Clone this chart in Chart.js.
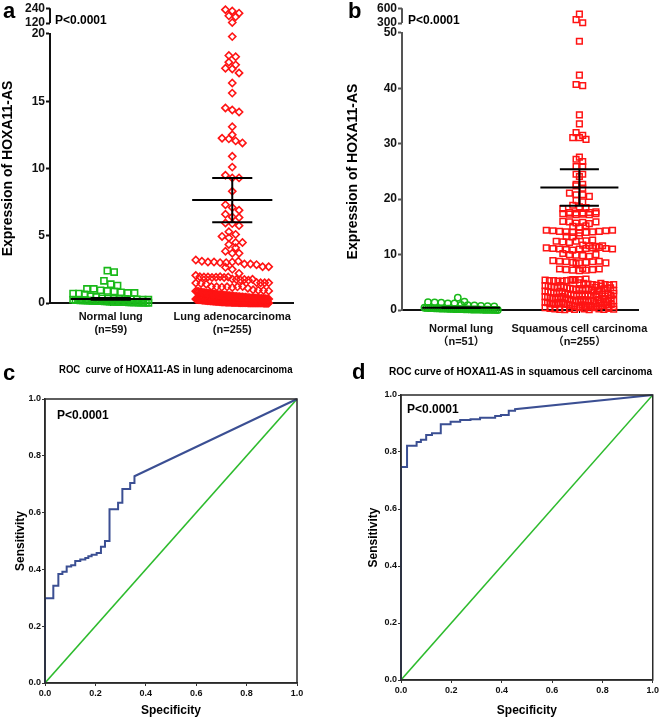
<!DOCTYPE html>
<html>
<head>
<meta charset="utf-8">
<script src="https://cdn.jsdelivr.net/npm/chart.js@4"></script>
<style>
  body { margin: 0; background: #fff; width: 661px; height: 718px; position: relative; overflow: hidden; }
  .box { position: absolute; }
  .txt { position: absolute; font-family: 'Liberation Sans', Arial, sans-serif; font-weight: bold; color: #000; white-space: nowrap; line-height: 1; }
  .letter { font-size: 22px; }
  .pv { font-size: 12px; }
  .ttl { transform-origin: 0 0; }
</style>
</head>
<body>
<div class="box" style="left:0;top:0;width:330px;height:345px"><canvas id="chartA"></canvas></div>
<div class="box" style="left:330px;top:0;width:331px;height:350px"><canvas id="chartB"></canvas></div>
<div class="box" style="left:0;top:360px;width:330px;height:358px"><canvas id="chartC"></canvas></div>
<div class="box" style="left:330px;top:360px;width:331px;height:358px"><canvas id="chartD"></canvas></div>

<div class="txt letter" style="left:3px;top:0px">a</div>
<div class="txt letter" style="left:348px;top:0px">b</div>
<div class="txt letter" style="left:3px;top:362px">c</div>
<div class="txt letter" style="left:352px;top:361px">d</div>
<div class="txt pv" style="left:55px;top:14px">P&lt;0.0001</div>
<div class="txt pv" style="left:408px;top:14px">P&lt;0.0001</div>
<div class="txt pv" style="left:57px;top:409px">P&lt;0.0001</div>
<div class="txt pv" style="left:407px;top:403px">P&lt;0.0001</div>
<div class="txt ttl" style="left:59px;top:364px;font-size:11px;transform:scaleX(0.87)">ROC&nbsp; curve of HOXA11-AS in lung adenocarcinoma</div>
<div class="txt ttl" style="left:389px;top:366px;font-size:11.5px;transform:scaleX(0.88)">ROC curve of HOXA11-AS in squamous cell carcinoma</div>

<script>
const FONT = "'Liberation Sans', Arial, 'Noto Sans CJK SC', sans-serif";

// ---- panel a : lung adenocarcinoma ----
const catsA = [['Normal lung', '(n=59)'], ['Lung adenocarcinoma', '(n=255)']];
const normalA = [2.4, 2.3, 1.65, 1.4, 1.3, 1.05, 1.05, 0.95, 0.9, 0.85, 0.8, 0.75, 0.75, 0.7, 0.7, 0.65, 0.5, 0.45,
  0.35, 0.33, 0.32, 0.3, 0.3, 0.28, 0.27, 0.25, 0.25, 0.24, 0.22, 0.21, 0.2, 0.2, 0.19, 0.18, 0.17, 0.16, 0.15, 0.15,
  0.14, 0.13, 0.12, 0.11, 0.1, 0.1, 0.09, 0.08, 0.08, 0.07, 0.06, 0.06, 0.05, 0.05, 0.04, 0.04, 0.03, 0.03, 0.02, 0.02, 0.01];
const adenoTop = [228, 218, 200, 178, 170, 124];
const adeno = [19.8, 18.4, 18.3, 17.9, 17.7, 17.45, 17.4, 17.1, 16.35, 15.6, 14.5, 14.35, 14.2, 13.1, 12.5, 12.25, 12.2, 12.05, 11.9, 10.9, 10.1,
  9.5, 9.3, 9.3, 8.3, 7.3, 7.1, 6.9, 6.6, 6.4, 6.35, 5.95, 5.9, 5.75, 5.3, 5.1,
  4.95, 4.85, 4.5, 4.5, 4.35, 4.1, 3.85, 3.7, 3.7, 3.2, 3.1, 3.05, 3.05, 3.0, 3.0, 3.05, 3.1,
  2.9, 2.9, 2.85, 2.7, 2.7, 2.65, 2.5, 2.2, 2.05,
  1.95, 1.93, 1.93, 1.9, 1.92, 1.95, 1.9, 1.93, 1.78, 1.75, 1.72, 1.75, 1.7, 1.76, 1.52, 1.5, 1.48, 1.5, 1.45, 1.5, 1.4,
  1.22, 1.2, 1.18, 1.2, 1.15, 1.2, 1.22, 1.1,
  0.98, 0.95, 0.93, 0.9, 0.88, 0.86, 0.85, 0.82, 0.8, 0.78, 0.77, 0.75, 0.73, 0.72, 0.7, 0.69, 0.67, 0.66, 0.65, 0.63,
  0.62, 0.61, 0.6, 0.58, 0.57, 0.56, 0.55, 0.54, 0.52, 0.51, 0.5, 0.49, 0.48, 0.47, 0.46, 0.45, 0.44, 0.43, 0.42, 0.41,
  0.4, 0.39, 0.38, 0.38, 0.37, 0.36, 0.35, 0.35, 0.34, 0.33, 0.32, 0.32, 0.31, 0.3, 0.3, 0.29, 0.28, 0.28, 0.27, 0.26,
  0.26, 0.25, 0.25, 0.24, 0.23, 0.23, 0.22, 0.22, 0.21, 0.2, 0.2, 0.19, 0.19, 0.18, 0.18, 0.17, 0.17, 0.16, 0.16, 0.15,
  0.15, 0.14, 0.14, 0.13, 0.13, 0.13, 0.12, 0.12, 0.11, 0.11, 0.11, 0.1, 0.1, 0.1, 0.09, 0.09, 0.09, 0.08, 0.08, 0.08,
  0.08, 0.07, 0.07, 0.07, 0.07, 0.06, 0.06, 0.06, 0.06, 0.06, 0.05, 0.05, 0.05, 0.05, 0.05, 0.04, 0.04, 0.04, 0.04, 0.04,
  0.04, 0.03, 0.03, 0.03, 0.03, 0.03, 0.03, 0.03, 0.02, 0.02, 0.02, 0.02, 0.02, 0.02, 0.02, 0.02, 0.01, 0.01, 0.01, 0.01,
  0.01, 0.01, 0.01, 0.01, 0.01, 0.01, 0.01, 0.01, 0.01, 0.01, 0, 0, 0, 0, 0, 0, 0, 0];
const meanA = [0.3, 7.65];
const semLoA = [0.25, 6.0];
const semHiA = [0.38, 9.3];

// ---- panel b : squamous cell carcinoma ----
const catsB = [['Normal lung', '\uFF08n=51\uFF09'], ['Squamous cell carcinoma', '\uFF08n=255\uFF09']];
const normalB = [2.2, 1.5, 1.4, 1.35, 1.3, 1.2, 1.2, 0.9, 0.85, 0.8, 0.75, 0.7, 0.65,
  0.4, 0.38, 0.36, 0.35, 0.33, 0.32, 0.3, 0.29, 0.28, 0.27, 0.25, 0.24, 0.23, 0.22, 0.2, 0.19, 0.18, 0.17, 0.16, 0.15,
  0.14, 0.13, 0.12, 0.11, 0.1, 0.09, 0.08, 0.08, 0.07, 0.06, 0.05, 0.05, 0.04, 0.03, 0.03, 0.02, 0.02, 0.01];
const squamTop = [480, 370, 305];
const squam = [48.5, 42.4, 40.7, 40.5, 35.2, 33.6, 32.0, 31.5, 31.1, 31.1, 30.8, 27.6, 27.2,
  26.8, 25.9, 25.9, 24.5, 24.5, 24.1, 22.7, 22.7, 22.4, 22.0, 21.1, 20.8, 20.8, 20.5, 19.8, 19.5, 18.9, 18.6, 18.5, 18.3,
  17.6, 17.5, 17.4, 17.3, 17.2, 17.3, 17.2, 17.4, 17.5, 17.6, 17.7,
  16.0, 15.9, 15.7, 15.8, 15.6, 15.9, 15.1, 15.0, 15.2,
  14.4, 14.3, 14.2, 14.1, 14.0, 13.9, 14.0, 14.1, 14.2, 14.3, 14.4,
  13.3, 13.2, 13.4, 12.5, 12.4, 12.3, 12.2, 12.4, 12.6,
  11.7, 11.6, 11.5, 11.6, 11.2, 11.1, 11.0, 10.9, 10.8, 11.0, 11.1, 11.2, 11.3, 11.1, 11.0,
  10.2, 10.0, 9.9, 9.8, 9.7, 10.0,
  8.9, 8.8, 8.7, 8.6, 8.5, 8.4, 8.6, 8.7, 8.8, 8.5,
  7.5, 7.4, 7.3, 7.2, 7.1, 7.2, 7.3, 7.4,
  5.5, 5.4, 5.3, 5.3, 5.2, 5.2, 5.3, 5.4, 5.4, 5.5, 5.6,
  4.9, 4.8, 4.7, 4.6, 4.5, 4.4, 4.3, 4.2, 4.1, 4.0, 4.8, 4.6, 4.4, 4.2, 4.0, 3.9, 3.8, 3.7, 3.6, 3.5,
  3.4, 3.3, 3.2, 3.1, 3.0, 3.9, 3.7, 3.5, 3.3, 3.1, 2.9, 2.8, 2.7, 2.6, 2.5, 2.4, 2.3, 2.2, 2.1, 2.0,
  2.9, 2.7, 2.5, 2.3, 2.1, 2.8, 2.6, 2.4, 2.2, 2.0, 1.9, 1.8, 1.7, 1.6, 1.5, 1.4, 1.3, 1.2, 1.1, 1.0,
  1.9, 1.7, 1.5, 1.3, 1.1, 1.8, 1.6, 1.4, 1.2, 1.0, 0.9, 0.8, 0.7, 0.6, 0.5, 0.4, 0.3, 0.2, 0.1, 0.05,
  0.9, 0.7, 0.5, 0.3, 0.1, 0.8, 0.6, 0.4, 0.2, 0.05, 4.5, 4.1, 3.6, 3.2, 2.8, 2.4, 1.9, 1.5, 1.1, 0.7,
  4.3, 3.8, 3.4, 2.9, 2.5, 2.1, 1.6, 1.2, 0.8, 0.4, 4.6, 3.9, 3.1, 2.6, 1.8, 1.3, 0.9, 0.5, 0.2, 0.1,
  4.0, 3.5, 3.0, 2.2, 1.7, 1.0, 0.6, 0.3, 0.15];
const meanB = [0.4, 22.1];
const semLoB = [0.34, 18.8];
const semHiB = [0.46, 25.4];

// ---- ROC curves ----
const rocAdenoX = [0, 0, 0.033, 0.033, 0.053, 0.053, 0.069, 0.069, 0.086, 0.086, 0.104, 0.104, 0.12, 0.12, 0.14, 0.14,
  0.16, 0.16, 0.172, 0.172, 0.185, 0.185, 0.205, 0.205, 0.222, 0.222, 0.238, 0.238, 0.256, 0.256, 0.29, 0.29,
  0.307, 0.307, 0.338, 0.338, 0.355, 0.355, 1];
const rocAdenoY = [0, 0.298, 0.298, 0.342, 0.342, 0.384, 0.384, 0.392, 0.392, 0.41, 0.41, 0.415, 0.415, 0.43, 0.43, 0.435,
  0.435, 0.44, 0.44, 0.446, 0.446, 0.452, 0.452, 0.458, 0.458, 0.48, 0.48, 0.50, 0.50, 0.612, 0.612, 0.635,
  0.635, 0.683, 0.683, 0.704, 0.704, 0.728, 1];
const rocSquamX = [0, 0, 0.024, 0.024, 0.062, 0.062, 0.079, 0.079, 0.1, 0.1, 0.123, 0.123, 0.158, 0.158, 0.197, 0.197,
  0.235, 0.235, 0.276, 0.276, 0.314, 0.314, 0.374, 0.374, 0.397, 0.397, 0.428, 0.428, 0.453, 0.453, 1];
const rocSquamY = [0, 0.747, 0.747, 0.822, 0.822, 0.835, 0.835, 0.843, 0.843, 0.86, 0.86, 0.866, 0.866, 0.897, 0.897, 0.906,
  0.906, 0.912, 0.912, 0.915, 0.915, 0.92, 0.92, 0.926, 0.926, 0.93, 0.93, 0.945, 0.945, 0.95, 1];
const refLine = [0, 1];

const RED = '#ff1414';
const GREEN = '#19b919';

// rows of a column scatter: values binned, each row centred on the category
function swarm(values, center, bin, step, half) {
  const rows = {};
  values.forEach(v => {
    const k = Math.round(v / bin);
    (rows[k] = rows[k] || []).push(v);
  });
  const pts = [];
  Object.values(rows).forEach(row => {
    const n = row.length;
    const s = n > 1 ? Math.min(step, 2 * half / (n - 1)) : 0;
    row.forEach((v, i) => pts.push({x: center + (i - (n - 1) / 2) * s, y: v}));
  });
  return pts;
}

function seg(x0, x1, y0, y1, axis) {
  return {
    data: [{x: x0, y: y0}, {x: x1, y: y1}],
    yAxisID: axis, showLine: true, borderColor: '#000', borderWidth: 2,
    pointRadius: 0, clip: false
  };
}

function errorSets(means, lo, hi) {
  const out = [];
  means.forEach((m, i) => {
    const c = i + 0.5;
    out.push(seg(c - 0.33, c + 0.33, m, m, 'y'));
    out.push(seg(c - 0.165, c + 0.165, lo[i], lo[i], 'y'));
    out.push(seg(c - 0.165, c + 0.165, hi[i], hi[i], 'y'));
    out.push(seg(c, c, lo[i], hi[i], 'y'));
  });
  return out;
}

const bracket = {
  id: 'bracket',
  afterDraw(chart, args, opts) {
    const s = chart.scales.yTop;
    const ctx = chart.ctx;
    ctx.save();
    ctx.strokeStyle = opts.color;
    ctx.lineWidth = 2;
    ctx.beginPath();
    ctx.moveTo(s.right, s.getPixelForValue(opts.hi));
    ctx.lineTo(s.right, s.getPixelForValue(opts.lo));
    ctx.stroke();
    ctx.restore();
  }
};

const frame = {
  id: 'frame',
  afterDraw(chart, args, opts) {
    const a = chart.chartArea;
    const ctx = chart.ctx;
    ctx.save();
    ctx.strokeStyle = opts.color;
    ctx.lineWidth = 1.5;
    ctx.strokeRect(a.left, a.top, a.right - a.left, a.bottom - a.top);
    ctx.restore();
  }
};

function dotChart(id, cats, lowSets, topVals, topStyle, means, lo, hi, cfg) {
  const tickFont = {family: FONT, weight: 'bold', size: 12};
  new Chart(document.getElementById(id), {
    type: 'scatter',
    data: {
      datasets: errorSets(means, lo, hi).concat(lowSets, [Object.assign({
        data: swarm(topVals, 1.5, cfg.topBin, 0.056, 0.3), yAxisID: 'yTop', clip: false
      }, topStyle)])
    },
    plugins: [bracket],
    options: {
      responsive: true, maintainAspectRatio: false, animation: false,
      layout: {padding: {top: 5, right: cfg.padRight, left: 0, bottom: 0}},
      plugins: {
        legend: {display: false}, tooltip: {enabled: false},
        bracket: {color: cfg.yColor, lo: cfg.topTicks[0], hi: cfg.topTicks[1]}
      },
      scales: {
        x: {
          type: 'linear', min: 0, max: 2,
          afterBuildTicks: s => { s.ticks = [{value: 0.5}, {value: 1.5}]; },
          afterFit: s => { s.height = cfg.xHeight; },
          ticks: {callback: (v, i) => cats[i], font: {family: FONT, weight: 'bold', size: 11}, color: '#111', padding: cfg.xPad, maxRotation: 0},
          grid: {drawOnChartArea: false, tickLength: 3, color: '#000'},
          border: {color: '#111', width: 2}
        },
        y: {
          position: 'left', stack: 'col', stackWeight: cfg.mainH, weight: 1,
          min: 0, max: cfg.yMax,
          afterFit: s => { s.width = cfg.yWidth; },
          ticks: {stepSize: cfg.yStep, font: tickFont, color: '#111', padding: 1},
          grid: {drawOnChartArea: false, tickLength: 4, tickWidth: 2, tickColor: cfg.yColor},
          border: {color: cfg.yColor, width: 2},
          title: {display: true, text: 'Expression of HOXA11-AS', font: {family: FONT, weight: 'bold', size: 14}, color: '#000', padding: {top: cfg.titlePad, bottom: 0}}
        },
        yTop: {
          position: 'left', stack: 'col', stackWeight: cfg.topH, weight: 2,
          min: cfg.topMin, max: cfg.topTicks[1],
          afterFit: s => { s.width = cfg.yWidth; },
          afterBuildTicks: s => { s.ticks = cfg.topTicks.map(v => ({value: v})); },
          ticks: {font: tickFont, color: '#111', padding: 1, autoSkip: false},
          grid: {drawOnChartArea: false, tickLength: 4, tickWidth: 2, tickColor: cfg.yColor},
          border: {display: false}
        }
      }
    }
  });
}

const diamondA = {pointStyle: 'rectRot', radius: 3.6, borderColor: RED, backgroundColor: 'rgba(0,0,0,0)', borderWidth: 1.6};
const squareA = {pointStyle: 'rect', radius: 4.3, borderColor: GREEN, backgroundColor: 'rgba(0,0,0,0)', borderWidth: 1.6};
const squareB = {pointStyle: 'rect', radius: 4.0, borderColor: RED, backgroundColor: 'rgba(0,0,0,0)', borderWidth: 1.5};
const circleB = {pointStyle: 'circle', radius: 3.2, borderColor: GREEN, backgroundColor: 'rgba(0,0,0,0)', borderWidth: 1.5};

dotChart('chartA', catsA, [
  Object.assign({data: swarm(normalA, 0.5, 0.5, 0.056, 0.31), yAxisID: 'y', clip: false}, squareA),
  Object.assign({data: swarm(adeno, 1.5, 0.6, 0.056, 0.3), yAxisID: 'y', clip: false}, diamondA)
], adenoTop, diamondA, meanA, semLoA, semHiA, {
  padRight: 37, xHeight: 42, xPad: 4, yWidth: 50, yMax: 20, yStep: 5, mainH: 272, topH: 26,
  topMin: 32, topTicks: [120, 240], topBin: 56, yColor: '#111', titlePad: 0
});

dotChart('chartB', catsB, [
  Object.assign({data: swarm(normalB, 0.5, 1.0, 0.056, 0.31), yAxisID: 'y', clip: false}, circleB),
  Object.assign({data: swarm(squam, 1.5, 1.0, 0.056, 0.29), yAxisID: 'y', clip: false}, squareB)
], squamTop, squareB, meanB, semLoB, semHiB, {
  padRight: 19, xHeight: 40, xPad: 9, yWidth: 72, yMax: 50, yStep: 10, mainH: 280, topH: 25,
  topMin: 100, topTicks: [300, 600], topBin: 120, yColor: '#555', titlePad: 15
});

function rocChart(id, xs, ys, cfg) {
  const tickFont = {family: FONT, weight: 'bold', size: 9};
  new Chart(document.getElementById(id), {
    type: 'scatter',
    data: {
      datasets: [
        {data: xs.map((x, i) => ({x: x, y: ys[i]})), showLine: true, borderColor: '#3b4f93', borderWidth: 2, pointRadius: 0, clip: false},
        {data: refLine.map(v => ({x: v, y: v})), showLine: true, borderColor: '#2dbb2d', borderWidth: 1.5, pointRadius: 0}
      ]
    },
    plugins: [frame],
    options: {
      responsive: true, maintainAspectRatio: false, animation: false,
      layout: {padding: {top: cfg.top, right: cfg.right, left: 0, bottom: 0}},
      plugins: {legend: {display: false}, tooltip: {enabled: false}, frame: {color: '#2a2a2a'}},
      scales: {
        x: {
          type: 'linear', min: 0, max: 1,
          afterFit: s => { s.height = cfg.xHeight; },
          ticks: {stepSize: 0.2, callback: v => v.toFixed(1), font: tickFont, color: '#111', padding: 2, maxRotation: 0},
          grid: {drawOnChartArea: false, tickLength: 3, color: '#333'},
          border: {color: '#2a2a2a', width: 1.5},
          title: {display: true, text: 'Specificity', font: {family: FONT, weight: 'bold', size: 12}, color: '#000', padding: {top: 0, bottom: 0}}
        },
        y: {
          min: 0, max: 1,
          afterFit: s => { s.width = cfg.yWidth; },
          ticks: {stepSize: 0.2, callback: v => v.toFixed(1), font: tickFont, color: '#111', padding: 1},
          grid: {drawOnChartArea: false, tickLength: 3, color: '#333'},
          border: {color: '#2a2a2a', width: 1.5},
          title: {display: true, text: 'Sensitivity', font: {family: FONT, weight: 'bold', size: 12}, color: '#000', padding: {top: cfg.titlePad, bottom: 0}}
        }
      }
    }
  });
}

rocChart('chartC', rocAdenoX, rocAdenoY, {top: 39, right: 33, xHeight: 35, yWidth: 45, titlePad: 13});
rocChart('chartD', rocSquamX, rocSquamY, {top: 35, right: 5, xHeight: 38, yWidth: 71, titlePad: 36});
</script>
</body>
</html>
